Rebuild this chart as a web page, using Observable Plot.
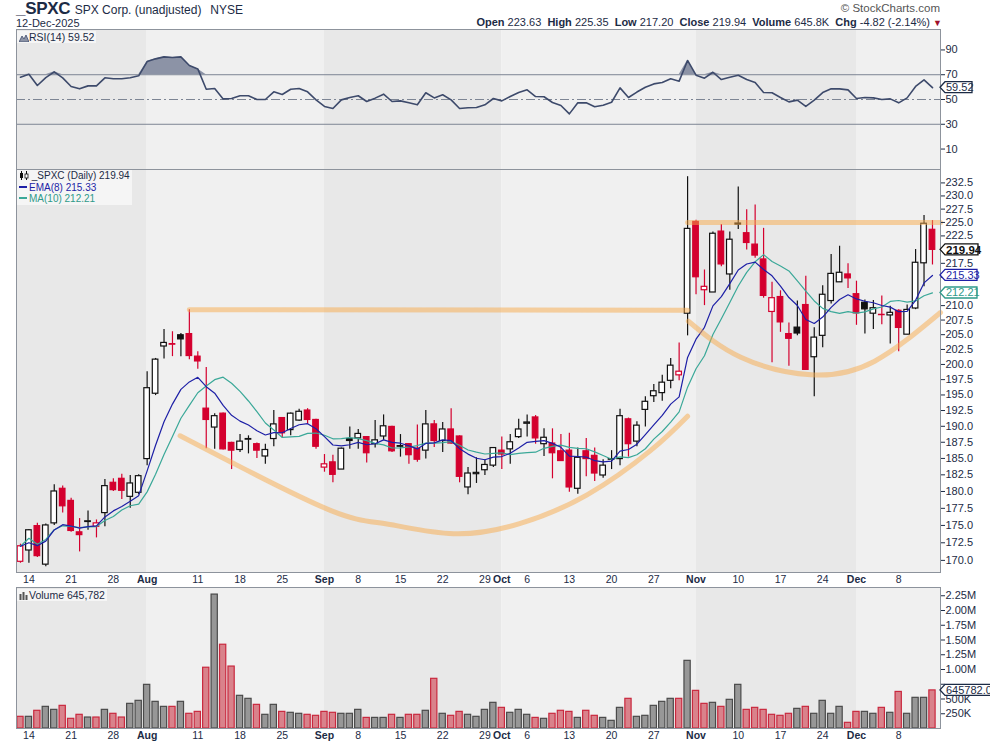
<!DOCTYPE html>
<html><head><meta charset="utf-8">
<script src="https://cdn.jsdelivr.net/npm/d3@7"></script>
<script src="https://cdn.jsdelivr.net/npm/@observablehq/plot@0.6"></script>
<style>
body{margin:0;background:#fff;font-family:"Liberation Sans",Arial,sans-serif;color:#1c2b45;}
#wrap{position:relative;width:990px;height:744px;overflow:hidden;background:#fff;}
.abs{position:absolute;white-space:nowrap;}
</style></head><body><div id="wrap"></div>
<script>
// ---------- data ----------
const tickIdx = [1,6,11,15,21,26,31,36,40,45,50,55,57,60,65,70,75,80,85,90,95,99,104];
const tickLab = ["14","21","28","Aug","11","18","25","Sep","8","15","22","29","Oct","6","13","20","27","Nov","10","17","24","Dec","8"];
const monthStarts = [15,36,57,80,99];
const priceTicks = [170.0,172.5,175.0,177.5,180.0,182.5,185.0,187.5,190.0,192.5,195.0,197.5,200.0,202.5,205.0,207.5,210.0,212.5,215.0,217.5,220.0,222.5,225.0,227.5,230.0,232.5];
const rsiTicks = [10,30,50,70,90];
const volTicks = [250000,500000,750000,1000000,1250000,1500000,1750000,2000000,2250000];
const firstPrevClose = 172.6;
// indicator read-outs shown in the reference legend
const emaLast = 215.33, maLast = 212.21;

const open = [169.8,171.4,174.9,169.4,175.3,180.4,178.6,174.0,175.5,174.8,
176.8,181.3,181.9,179.2,179.8,184.9,195.2,203.0,203.3,204.9,
205.1,201.3,192.8,189.8,192.0,187.4,186.3,187.9,187.2,185.3,
188.0,191.3,189.4,190.9,192.5,191.0,183.6,184.4,183.3,188.0,
188.1,188.3,187.2,188.4,189.9,186.8,187.2,186.5,186.2,190.3,
187.7,189.5,188.4,180.6,182.6,183.2,183.9,186.2,186.4,188.3,
190.4,191.4,187.2,187.3,186.1,186.2,180.4,186.1,185.4,182.4,
184.8,184.9,191.1,187.6,192.6,194.8,195.3,197.3,198.2,208.6,
225.1,212.7,212.3,223.3,215.5,224.6,223.0,220.9,218.2,208.9,
211.5,205.1,206.2,210.1,201.2,204.8,210.8,214.1,215.5,212.0,
210.5,208.6,208.4,208.3,209.1,205.0,209.5,217.5,223.63];
const high = [172.3,174.4,175.3,175.2,181.0,180.8,179.0,176.0,177.1,175.8,
181.8,181.9,182.6,182.4,182.5,198.8,201.0,205.9,205.5,205.2,
209.3,202.1,199.5,192.0,192.1,187.5,188.7,188.5,187.4,187.2,
192.5,191.4,192.1,192.7,192.8,191.1,185.6,185.5,186.6,189.9,
189.5,188.4,190.9,191.8,190.0,188.7,187.3,190.2,192.5,190.9,
190.6,192.8,188.5,183.6,185.1,184.8,186.7,188.3,188.7,191.1,
191.8,191.7,189.6,189.6,188.7,188.9,186.6,188.1,186.6,184.8,
186.2,192.7,191.3,190.7,194.7,196.7,198.2,201.0,203.6,233.7,
225.4,216.3,223.2,224.6,223.2,231.7,227.4,228.3,223.9,214.1,
212.6,207.0,210.8,215.2,206.2,213.5,219.1,220.6,217.4,214.3,
211.0,210.9,211.7,209.9,209.3,210.1,220.0,226.3,225.35];
const low = [169.6,169.6,170.4,169.1,175.0,176.8,174.0,171.2,174.3,173.2,
174.8,180.0,178.8,177.5,179.5,183.9,194.9,200.9,201.3,201.3,
200.8,199.2,186.5,186.4,186.3,183.3,185.9,185.7,185.0,184.1,
186.8,188.2,188.5,190.8,190.3,186.4,182.9,181.3,183.3,186.4,
186.4,184.3,186.6,187.8,185.9,185.2,184.1,184.4,184.9,186.7,
185.9,187.2,181.3,179.5,181.2,182.4,183.6,183.3,184.1,188.1,
188.3,187.2,185.3,181.9,184.6,179.9,179.6,182.2,181.5,182.0,
183.3,183.9,185.2,186.8,189.9,193.8,194.0,196.0,197.3,204.8,
211.9,210.0,212.3,216.9,212.7,223.7,219.9,218.4,211.3,200.3,
205.4,199.7,204.8,199.1,194.7,202.8,210.3,214.1,213.0,206.6,
205.1,205.9,206.7,203.4,202.1,205.0,209.3,213.3,217.20];
const close = [172.0,174.3,170.6,175.0,180.0,177.8,174.2,173.6,175.6,175.3,
180.8,180.2,180.1,181.2,182.3,196.1,200.8,203.6,203.4,204.2,
201.4,200.5,191.0,191.6,186.4,186.2,187.6,188.0,186.2,186.3,
190.3,188.9,192.0,192.3,191.0,186.8,184.1,182.5,186.5,187.7,
188.8,185.8,187.8,190.0,186.1,186.9,185.5,184.8,190.3,187.7,
189.5,187.3,182.2,182.7,182.8,184.0,186.6,185.6,187.5,189.5,
190.6,188.1,188.2,185.8,184.6,180.6,185.1,184.9,182.7,183.9,
184.9,191.6,187.2,190.1,193.9,195.6,197.0,199.8,198.8,223.8,
215.0,213.3,222.9,217.3,221.8,224.8,221.2,218.9,211.7,211.3,
207.1,204.3,205.2,199.1,204.5,211.9,215.6,215.8,214.8,208.65,
209.35,209.55,208.35,208.75,206.15,209.25,217.6,224.76,219.94];
const volume = [198000,198000,300000,367000,316000,384000,164000,232000,186000,186000,
316000,249000,186000,418000,469000,740000,452000,367000,367000,452000,
249000,282000,1030000,2270000,1420000,1050000,554000,503000,401000,232000,
401000,282000,266000,249000,232000,215000,282000,266000,249000,249000,
316000,180000,180000,180000,232000,180000,232000,232000,300000,842000,
249000,215000,282000,232000,198000,316000,435000,350000,266000,316000,
232000,180000,164000,249000,300000,282000,180000,300000,215000,180000,
130000,350000,503000,198000,215000,384000,452000,503000,503000,1147000,
638000,418000,435000,367000,486000,740000,316000,350000,316000,232000,
215000,249000,333000,367000,249000,469000,249000,367000,96000,282000,
282000,249000,350000,266000,620000,249000,520000,520000,645782];
const rsi = [68.0,70.4,61.3,67.7,72.3,67.5,60.5,58.6,61.0,61.0,
67.5,66.7,66.7,67.5,69.1,80.6,82.8,84.4,83.9,84.4,
77.4,74.7,58.3,58.9,50.5,50.8,53.0,53.0,50.0,50.0,
56.2,54.0,58.3,58.9,56.2,49.7,44.4,42.7,49.7,51.6,
53.0,48.4,51.1,54.3,48.4,48.9,47.3,45.7,55.4,51.3,
53.8,49.7,42.7,43.3,43.5,45.7,50.8,48.9,52.4,55.6,
57.8,52.4,52.2,47.6,45.2,38.4,47.3,47.3,44.1,45.4,
47.8,59.4,51.6,56.0,59.9,62.6,63.7,66.7,64.8,81.5,
69.6,67.2,72.0,66.1,68.0,69.6,66.1,63.7,55.6,55.4,
51.6,48.1,49.5,44.4,49.5,55.6,58.6,58.6,57.8,50.8,
51.6,51.3,50.0,50.5,47.3,51.3,60.5,65.9,59.52];

// chart annotations (trading-day index, price)
const resistLow = [{i:20,p:209.3},{i:79,p:209.2}];
const resistHigh = [{i:79,p:225.0},{i:108.95,p:225.0}];
const bowlBig = [{i:18.9,p:188.5},{i:25.3,p:184.2},{i:36.7,p:177.2},{i:43.4,p:175.2},{i:51.3,p:173.8},{i:59.2,p:175.3},{i:67.1,p:179.5},{i:74.6,p:186.2},{i:79,p:191.6}];
const bowlSmall = [{i:79.1,p:207.3},{i:85.3,p:201.2},{i:93.6,p:198.3},{i:101.1,p:200.5},{i:108.95,p:208.8}];

// ---------- derived ----------
const RED = "#d4002e", BLK = "#111111";
const rows = close.map((c,i)=>{
  const prev = i===0 ? firstPrevClose : close[i-1];
  const up = c >= prev;
  return {i, open:open[i], high:high[i], low:low[i], close:c, vol:volume[i], rsi:rsi[i],
    color: up ? BLK : RED, hollow: c >= open[i], up};
});
const k = 2/9;
let e = close[0];
rows.forEach((d,i)=>{ e = i===0 ? close[0] : close[i]*k + e*(1-k); d.ema = e;
  const s = close.slice(Math.max(0,i-9), i+1); d.ma = d3.mean(s); });

const xDomain = [-0.47, 108.95];
const edges = [xDomain[0], ...monthStarts, xDomain[1]];
const bands = edges.slice(0,-1).map((x1,j)=>({x1, x2:edges[j+1], fill: j%2===0 ? "#e8e8e8" : "#f0f0f0"}));
const labMap = new Map(tickIdx.map((t,j)=>[t,tickLab[j]]));
const dayTicks = tickIdx.filter(t=>/^\d+$/.test(labMap.get(t)));
const monTicks = tickIdx.filter(t=>!/^\d+$/.test(labMap.get(t)));

const FRAME = "#8d939c", TXT = "#1c2b45";
const style = {fontFamily:"Liberation Sans, Arial, sans-serif", fontSize:"11px", background:"transparent", color:TXT, overflow:"visible"};
const base = {width:990, marginLeft:16, marginRight:50, marginTop:0, style};

function xAxes(){
  return [
    Plot.axisX({ticks: dayTicks, tickFormat: d=>labMap.get(d), tickSize:0, tickPadding:3, fontSize:10.5, color:TXT, label:null}),
    Plot.axisX({ticks: monTicks, tickFormat: d=>labMap.get(d), tickSize:0, tickPadding:3, fontSize:10.5, fontWeight:"bold", color:TXT, label:null})
  ];
}

// ---------- RSI ----------
const rsiPlot = Plot.plot({...base, height:140, marginBottom:0,
  x:{domain:xDomain, axis:null},
  y:{domain:[-6.5,106.5], axis:null},
  marks:[
    Plot.rect(bands, {x1:"x1", x2:"x2", fill:"fill"}),
    Plot.ruleY([70,30], {stroke:"#7d8594"}),
    Plot.ruleY([50], {stroke:"#7d8594", strokeDasharray:"9,3,2,3"}),
    Plot.areaY(rows, {x:"i", y1:70, y2:d=>Math.max(d.rsi,70), fill:"#8c93a6"}),
    Plot.line(rows, {x:"i", y:"rsi", stroke:"#3d4a6b", strokeWidth:1.6}),
    Plot.frame({stroke:FRAME}),
    Plot.axisY({anchor:"right", ticks:rsiTicks, tickSize:4, tickPadding:1, color:TXT, fontSize:11, label:null})
  ]});

// ---------- Price ----------
const ORANGE = {stroke:"#f7a94a", strokeOpacity:0.5, strokeWidth:5};
const pricePlot = Plot.plot({...base, height:418, marginBottom:15,
  x:{domain:xDomain, axis:null},
  y:{type:"log", domain:[168.3,235.1], axis:null},
  marks:[
    Plot.rect(bands, {x1:"x1", x2:"x2", fill:"fill"}),
    Plot.ruleX(rows, {x:"i", y1:"low", y2:"high", stroke:"color", strokeWidth:1.2}),
    Plot.rect(rows, {x1:d=>d.i-0.33, x2:d=>d.i+0.33, y1:d=>Math.min(d.open,d.close), y2:d=>Math.max(d.open,d.close),
      fill:d=>d.hollow ? "#ffffff" : d.color, stroke:"color", strokeWidth:1.2}),
    Plot.line(rows, {x:"i", y:"ma", stroke:"#3aa898", strokeWidth:1.2}),
    Plot.line(rows, {x:"i", y:"ema", stroke:"#1d1fa6", strokeWidth:1.2}),
    Plot.line(resistLow, {x:"i", y:"p", ...ORANGE}),
    Plot.line(resistHigh, {x:"i", y:"p", ...ORANGE}),
    Plot.line(bowlBig, {x:"i", y:"p", ...ORANGE, curve:"natural"}),
    Plot.line(bowlSmall, {x:"i", y:"p", ...ORANGE, curve:"natural"}),
    Plot.frame({stroke:FRAME}),
    Plot.axisY({anchor:"right", ticks:priceTicks, tickFormat:d=>d.toFixed(1), tickSize:4, tickPadding:1, color:TXT, fontSize:11, label:null}),
    ...xAxes()
  ]});

// ---------- Volume ----------
const volPlot = Plot.plot({...base, height:157, marginBottom:16,
  x:{domain:xDomain, axis:null},
  y:{domain:[0,2390000], axis:null},
  marks:[
    Plot.rect(bands, {x1:"x1", x2:"x2", fill:"fill"}),
    Plot.rectY(rows, {x1:d=>d.i-0.37, x2:d=>d.i+0.37, y1:0, y2:"vol",
      fill:d=>d.up ? "#979797" : "#d9828b", stroke:d=>d.up ? "#4a4a4a" : "#c9283e", strokeWidth:1.2}),
    Plot.frame({stroke:FRAME}),
    Plot.axisY({anchor:"right", ticks:volTicks, tickFormat:d=> d>=1e6 ? (d/1e6).toFixed(2)+"M" : (d/1e3)+"K", tickSize:4, tickPadding:1, color:TXT, fontSize:11, label:null}),
    ...xAxes()
  ]});

// ---------- assemble ----------
const wrap = document.getElementById("wrap");
function place(el, top){ el.style.position="absolute"; el.style.left="0px"; el.style.top=top+"px"; wrap.appendChild(el); }
place(rsiPlot, 29); place(pricePlot, 169); place(volPlot, 587);

// value tags on the right axis; axis labels they cover are hidden as in the reference
function tag(svg, value, text, color, bold, w, gap){
  const x = 940, y = svg.scale("y").apply(value);
  const sr = svg.getBoundingClientRect();
  d3.select(svg).selectAll("text").each(function(){
    const r = this.getBoundingClientRect();
    const cy = (r.top + r.bottom)/2 - sr.top, cx = (r.left + r.right)/2 - sr.left;
    if (cx > x && Math.abs(cy - y) < gap) this.remove();
  });
  const g = d3.select(svg).append("g");
  g.append("path").attr("d", `M${x},${y} L${x+5},${y-5.5} L${x+w},${y-5.5} L${x+w},${y+5.5} L${x+5},${y+5.5} Z`)
    .attr("fill","#fff").attr("stroke",color).attr("stroke-width",1.3);
  g.append("text").attr("x",x+6).attr("y",y).attr("dy","0.36em").attr("fill",color).attr("text-anchor","start")
    .attr("font-size", bold ? 11.5 : 11).attr("font-weight", bold ? "bold" : "normal").text(text);
}
const last = rows[rows.length-1];
tag(rsiPlot, last.rsi, last.rsi.toFixed(2), "#1c2b45", false, 32, 9);
tag(pricePlot, maLast, maLast.toFixed(2), "#2f9a8a", false, 37, 9);
tag(pricePlot, emaLast, emaLast.toFixed(2), "#1d1fa6", false, 37, 9);
tag(pricePlot, last.close, last.close.toFixed(2), "#111", true, 38, 9);
tag(volPlot, last.vol, last.vol.toFixed(2), "#1c2b45", false, 60, 7);

// ---------- text ----------
function html(s, css){ const d=document.createElement("div"); d.className="abs"; d.innerHTML=s; Object.assign(d.style, css); wrap.appendChild(d); return d; }
const prevClose = close[close.length-2];
const chg = last.close - prevClose;
html(`<span style="font-size:17px;font-weight:bold;letter-spacing:-0.3px;">_SPXC</span> <span style="font-size:12px;">SPX Corp. (unadjusted)</span>&nbsp; <span style="font-size:12px;">NYSE</span>`, {left:"16px", top:"-1px", color:TXT});
html(`12-Dec-2025`, {left:"16px", top:"17px", fontSize:"11px", color:TXT});
html(`© StockCharts.com`, {right:"50px", top:"2px", fontSize:"11.5px", color:"#555"});
const fmtK = v => (v/1000).toFixed(1)+"K";
html(`<b>Open</b> ${last.open.toFixed(2)} &nbsp;<b>High</b> ${last.high.toFixed(2)} &nbsp;<b>Low</b> ${last.low.toFixed(2)} &nbsp;<b>Close</b> ${last.close.toFixed(2)} &nbsp;<b>Volume</b> ${fmtK(last.vol)} &nbsp;<b>Chg</b> ${chg.toFixed(2)} (${(chg/prevClose*100).toFixed(2)}%) <span style="color:#a0102a;font-size:9px;">▼</span>`,
  {right:"48px", top:"16px", fontSize:"11px", color:TXT});

const ico1 = `<svg width="10" height="8" style="vertical-align:-1px"><path d="M0,8 L3,2 L5,5 L7,1 L10,8Z" fill="#8c93a6" stroke="#3d4a6b" stroke-width="0.8"/></svg>`;
const ico2 = `<svg width="10" height="9" style="vertical-align:-1px"><path d="M2.5,0V9M7.5,0V9" stroke="#111"/><rect x="1" y="2" width="3" height="5" fill="#111"/><rect x="6" y="3" width="3" height="4" fill="#fff" stroke="#111" stroke-width="0.8"/></svg>`;
const ico3 = `<svg width="10" height="9" style="vertical-align:-1px"><rect x="0.5" y="3" width="2" height="6" fill="#555"/><rect x="3.5" y="1" width="2" height="8" fill="#555"/><rect x="6.5" y="4" width="2" height="5" fill="#555"/></svg>`;
const dash = c => `<span style="display:inline-block;width:8px;height:2px;background:${c};vertical-align:3px;margin-right:2px;"></span>`;
const legBg = "rgba(246,246,246,0.9)";
html(`${ico1}RSI(14) ${last.rsi.toFixed(2)}`, {left:"17px", top:"31px", fontSize:"10.5px", color:TXT, background:legBg, padding:"0 2px"});
html(`<div>${ico2} _SPXC (Daily) ${last.close.toFixed(2)}</div><div style="color:#1d1fa6">${dash("#1d1fa6")}EMA(8) ${emaLast.toFixed(2)}</div><div style="color:#2f9a8a">${dash("#3aa898")}MA(10) ${maLast.toFixed(2)}</div>`,
  {left:"17px", top:"170px", fontSize:"10px", lineHeight:"11.5px", color:TXT, background:legBg, padding:"0 2px"});
html(`${ico3}Volume ${d3.format(",")(last.vol)}`, {left:"17px", top:"589px", fontSize:"10.5px", color:TXT, background:legBg, padding:"0 2px"});
</script></body></html>
